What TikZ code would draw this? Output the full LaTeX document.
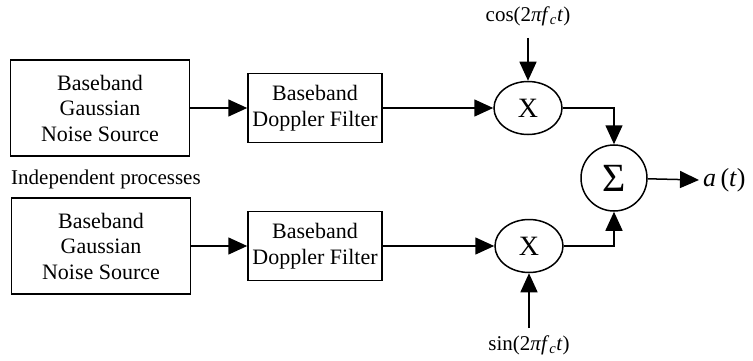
\documentclass[tikz,border=0pt]{standalone}
\usepackage{fontspec}
\setmainfont{Liberation Serif}
\usepackage{tikz}
\usetikzlibrary{arrows.meta}
\usetikzlibrary{shapes.geometric}
\usetikzlibrary{positioning}
\tikzset{>={Triangle[length=19pt,width=17pt]}}
\tikzstyle{sig line}=[line width=1.5pt,draw=black]
\tikzstyle{block}=[sig line, rectangle, align=center, inner sep=0pt, font=\fontsize{22}{25.5}\selectfont]
\tikzstyle{mixer}=[sig line, ellipse, inner sep=0pt, minimum width=68pt, minimum height=53pt, font=\fontsize{28}{30}\selectfont]
\tikzstyle{adder}=[sig line, circle, inner sep=0pt, minimum size=66pt, font=\fontsize{40}{40}\selectfont]
\tikzstyle{carrier}=[inner sep=2pt, font=\fontsize{21}{24}\selectfont]

\begin{document}
\begin{tikzpicture}[x=1pt,y=-1pt]
	\def\ya{108}  % upper branch
	\def\yb{246}  % lower branch
	\useasboundingbox (0,0) rectangle (753,361);

	% Noise sources
	\node[block, minimum width=179pt, minimum height=96pt] (src1) at (100,\ya) {Baseband\\Gaussian\\Noise Source};
	\node[block, minimum width=179pt, minimum height=96pt] (src2) at (101,\yb) {Baseband\\Gaussian\\Noise Source};
	\node[anchor=south west, inner sep=0pt, font=\fontsize{21}{24}\selectfont] (indep) at (11,189) {Independent processes};

	% Doppler filters
	\node[block, minimum width=134pt, minimum height=69pt] (filt1) at (315,\ya) {Baseband\\Doppler Filter};
	\node[block, minimum width=134pt, minimum height=69pt] (filt2) at (315,\yb) {Baseband\\Doppler Filter};

	% Mixers and carriers
	\node[mixer] (mult1) at (528,\ya) {X};
	\node[mixer] (mult2) at (529,\yb) {X};
	\node[carrier] (cos) at (528,16) {cos(2\textit{πf}\textsubscript{\textit{c}}\textit{t})};
	\node[carrier] (sin) at (529,345) {sin(2\textit{πf}\textsubscript{\textit{c}}\textit{t})};
	\coordinate (cos0) at (528,38);
	\coordinate (sin0) at (529,328);

	% Sum and output
	\node[adder] (sum) at (614,178) {Σ};
	\node[anchor=west, inner sep=0pt, font=\fontsize{26}{30}\selectfont] (out) at (703,180) {\textit{a}\,(\textit{t})};

	\draw[sig line,->] (src1.east |- 0,\ya) -- (filt1.west);
	\draw[sig line,->] (src2.east |- 0,\yb) -- (filt2.west);
	\draw[sig line,->] (filt1) -- (mult1);
	\draw[sig line,->] (filt2) -- (mult2);
	\draw[sig line,->] (cos0) -- (mult1);
	\draw[sig line,->] (sin0) -- (mult2);
	\draw[sig line,->] (mult1.east) -| (sum.north);
	\draw[sig line,->] (mult2.east) -| (sum.south);
	\draw[sig line,->] (sum) -- ([xshift=-4pt]out.west);
\end{tikzpicture}
\end{document}
